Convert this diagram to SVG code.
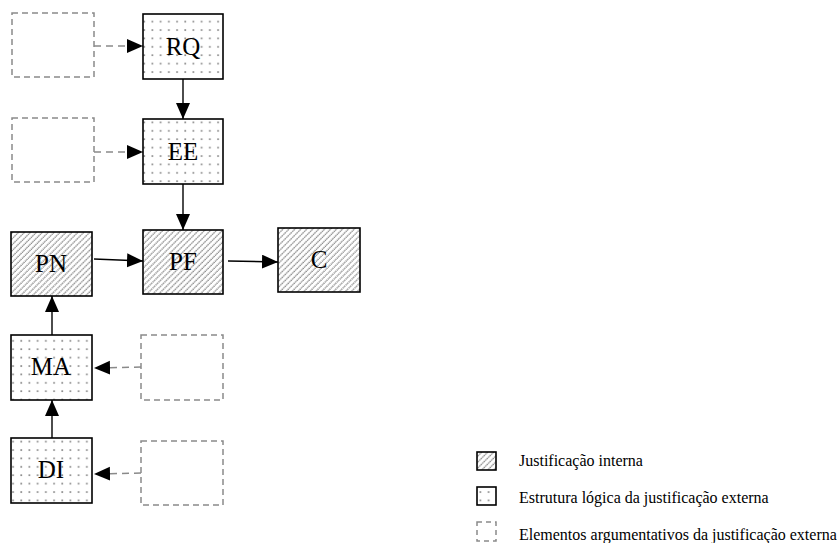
<svg xmlns="http://www.w3.org/2000/svg" width="837" height="543" viewBox="0 0 837 543">
<defs>
  <pattern id="dots" x="1" y="1" width="8.2" height="8.4" patternUnits="userSpaceOnUse">
    <rect width="8.2" height="8.4" fill="#fff"/>
    <rect x="3" y="3" width="1.7" height="1.7" fill="#8c8c8c"/>
  </pattern>
  <pattern id="hatch" width="4.2" height="4.2" patternUnits="userSpaceOnUse" patternTransform="rotate(45)">
    <rect width="4.2" height="4.2" fill="#fff"/>
    <line x1="1" y1="0" x2="1" y2="4.2" stroke="#8a8a8a" stroke-width="1.3" stroke-dasharray="1.4,0.7"/>
  </pattern>
  <marker id="arr" markerUnits="userSpaceOnUse" markerWidth="17" markerHeight="15" refX="16" refY="7" orient="auto">
    <path d="M0,0 L16,7 L0,14 Z" fill="#000"/>
  </marker>
</defs>
<style>
  .dot { fill: url(#dots); stroke: #000; stroke-width: 1.6; }
  .hat { fill: url(#hatch); stroke: #000; stroke-width: 1.6; }
  .dsh { fill: #fff; stroke: #8a8a8a; stroke-width: 1.5; stroke-dasharray: 6,4; }
  .lbl { font-family: "Liberation Serif", "Times New Roman", serif; font-size: 25px; text-anchor: middle; fill: #000; }
  .leg { font-family: "Liberation Serif", "Times New Roman", serif; font-size: 16px; fill: #000; }
  .solid { stroke: #000; stroke-width: 1.4; fill: none; marker-end: url(#arr); }
  .dline { stroke: #8a8a8a; stroke-width: 1.5; stroke-dasharray: 7,5; fill: none; marker-end: url(#arr); }
</style>
<rect width="837" height="543" fill="#fff"/>

<g id="connectors">
  <line class="dline" x1="94" y1="46" x2="143" y2="46"/>
  <line class="dline" x1="94" y1="152" x2="143" y2="152"/>
  <line class="solid" x1="183" y1="79" x2="183" y2="119"/>
  <line class="solid" x1="183" y1="184" x2="183" y2="230"/>
  <line class="solid" x1="94" y1="259" x2="143" y2="261"/>
  <line class="solid" x1="228" y1="261" x2="278" y2="262"/>
  <line class="solid" x1="52" y1="335" x2="52" y2="296"/>
  <line class="solid" x1="52" y1="438" x2="52" y2="400"/>
  <line class="dline" x1="141" y1="367" x2="94" y2="368"/>
  <line class="dline" x1="141" y1="473" x2="94" y2="474"/>
</g>

<g id="d1"><rect class="dsh" x="12" y="13" width="82" height="64"/></g>
<g id="RQ"><rect class="dot" x="143" y="14" width="80" height="65"/><text class="lbl" x="183" y="55">RQ</text></g>
<g id="d2"><rect class="dsh" x="12" y="118" width="82" height="64"/></g>
<g id="EE"><rect class="dot" x="143" y="119" width="80" height="65"/><text class="lbl" x="183" y="160">EE</text></g>
<g id="PN"><rect class="hat" x="11" y="232" width="81" height="64"/><text class="lbl" x="51" y="272">PN</text></g>
<g id="PF"><rect class="hat" x="143" y="230" width="80" height="64"/><text class="lbl" x="183" y="270">PF</text></g>
<g id="C"><rect class="hat" x="278" y="228" width="82" height="64"/><text class="lbl" x="319" y="268">C</text></g>
<g id="MA"><rect class="dot" x="11" y="335" width="81" height="65"/><text class="lbl" x="51" y="375">MA</text></g>
<g id="d3"><rect class="dsh" x="141" y="335" width="82" height="65"/></g>
<g id="DI"><rect class="dot" x="11" y="438" width="81" height="65"/><text class="lbl" x="51" y="478">DI</text></g>
<g id="d4"><rect class="dsh" x="141" y="441" width="82" height="64"/></g>

<g id="legend">
  <rect class="hat" x="477" y="452" width="19" height="18" stroke-width="1.4"/>
  <text class="leg" x="519" y="466">Justificação interna</text>
  <rect class="dot" x="477" y="487" width="19" height="18" stroke-width="1.4"/>
  <text class="leg" x="519" y="503">Estrutura lógica da justificação externa</text>
  <rect class="dsh" x="477" y="522" width="19" height="19" style="stroke-dasharray:5,4"/>
  <text class="leg" x="519" y="540">Elementos argumentativos da justificação externa</text>
</g>
</svg>
